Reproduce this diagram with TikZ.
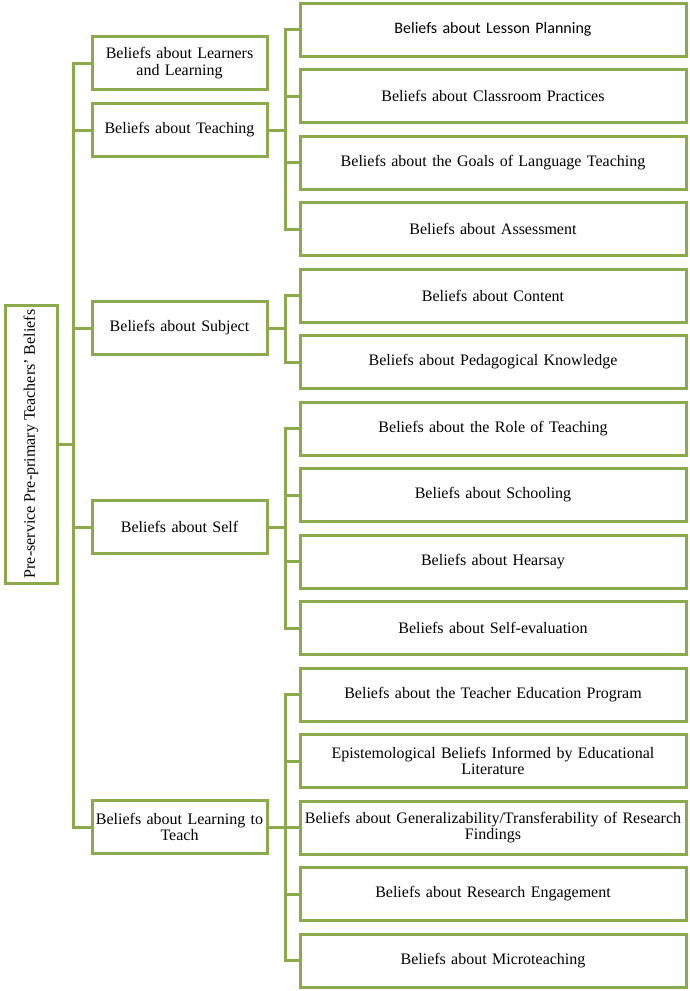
\documentclass[tikz,border=0pt]{standalone}
\usepackage{fontspec}
\setmainfont{Liberation Serif}
\newfontfamily\calib{Carlito}
\definecolor{olive}{RGB}{138,170,75}
\begin{document}
\begin{tikzpicture}[x=1pt,y=-1pt,
  box/.style={draw=olive, line width=3pt, fill=white, align=center, inner sep=1pt,
    font=\fontsize{16}{16.8}\selectfont},
  lone/.style={box, minimum width=175pt, minimum height=53pt, text width=170pt},
  ltwo/.style={box, minimum width=386pt, minimum height=53pt, text width=384pt},
  conn/.style={draw=olive, line width=3pt}]
\useasboundingbox (0,0) rectangle (690,991);
\node[box, minimum width=278pt, minimum height=52pt, rotate=90] (root) at (31,444) {Pre-service Pre-primary Teachers’ Beliefs};
\coordinate (t1) at (73,444);
\coordinate (t2) at (285,444);
% level 1
\node[lone] (learners) at (179.5,63) {Beliefs about Learners\\and Learning};
\node[lone] (teach) at (179.5,130) {Beliefs about Teaching};
\node[lone] (subj) at (179.5,328) {Beliefs about Subject};
\node[lone] (self) at (179.5,527) {Beliefs about Self};
\node[lone] (learn) at (179.5,827) {Beliefs about Learning to\\Teach};
% level 2
\node[ltwo] (lp) at (493,29.5) {\calib Beliefs about Lesson Planning};
\node[ltwo] (cp) at (493,96) {Beliefs about Classroom Practices};
\node[ltwo] (goals) at (493,162.5) {Beliefs about the Goals of Language Teaching};
\node[ltwo] (assess) at (493,229) {Beliefs about Assessment};
\node[ltwo] (content) at (493,295.5) {Beliefs about Content};
\node[ltwo] (ped) at (493,362) {Beliefs about Pedagogical Knowledge};
\node[ltwo] (role) at (493,428.5) {Beliefs about the Role of Teaching};
\node[ltwo] (school) at (493,495) {Beliefs about Schooling};
\node[ltwo] (hear) at (493,561.5) {Beliefs about Hearsay};
\node[ltwo] (seval) at (493,628) {Beliefs about Self-evaluation};
\node[ltwo] (tep) at (493,694.5) {Beliefs about the Teacher Education Program};
\node[ltwo] (epi) at (493,761) {Epistemological Beliefs Informed by Educational\\Literature};
\node[ltwo] (gen) at (493,827.5) {Beliefs about Generalizability/Transferability of Research\\Findings};
\node[ltwo] (reng) at (493,894) {Beliefs about Research Engagement};
\node[ltwo] (micro) at (493,960.5) {Beliefs about Microteaching};
% connectors
\foreach \c in {learners,teach,subj,self,learn}
  \draw[conn] (root.south) -- (root.south -| t1) |- (\c.west);
\foreach \c in {lp,cp,goals,assess}
  \draw[conn] (teach.east) -- (teach.east -| t2) |- (\c.west);
\foreach \c in {content,ped}
  \draw[conn] (subj.east) -- (subj.east -| t2) |- (\c.west);
\foreach \c in {role,school,hear,seval}
  \draw[conn] (self.east) -- (self.east -| t2) |- (\c.west);
\foreach \c in {tep,epi,gen,reng,micro}
  \draw[conn] (learn.east) -- (learn.east -| t2) |- (\c.west);
\end{tikzpicture}
\end{document}
